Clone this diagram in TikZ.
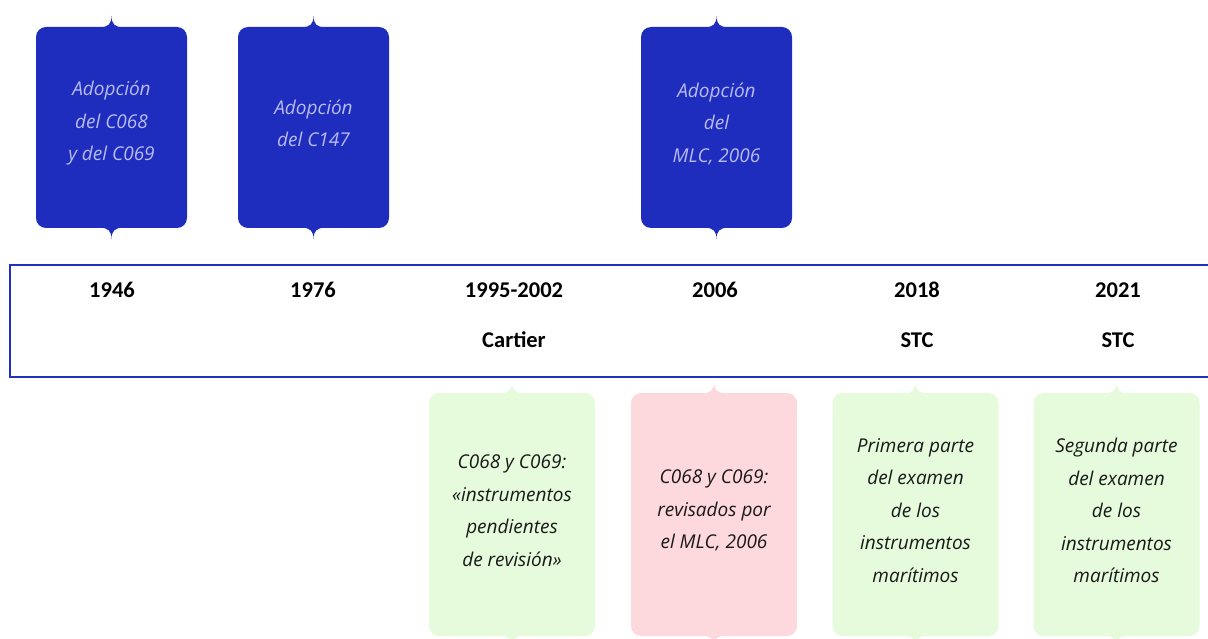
\documentclass[tikz,border=0pt]{standalone}
\usepackage{fontspec}
\setmainfont{Open Sans}
\newfontfamily\datefont{Carlito}
\usetikzlibrary{calc}

\definecolor{boxblue}{RGB}{31,45,190}
\definecolor{boxtext}{RGB}{185,188,242}
\definecolor{bandblue}{RGB}{32,48,192}
\definecolor{softgreen}{RGB}{230,250,220}
\definecolor{softpink}{RGB}{253,216,220}

\tikzset{
  milestone/.style={rounded corners=10pt, inner sep=0pt},
  upperbox/.style={milestone, fill=boxblue,
    minimum width=151pt, minimum height=201pt},
  lowerbox/.style={milestone, fill=#1,
    minimum width=166pt, minimum height=243pt},
  boxtxt/.style={align=center, inner sep=0pt, yshift=4pt,
    font=\itshape\fontsize{19}{32.5}\selectfont},
  datelabel/.style={font=\datefont\bfseries\fontsize{22.5}{26}\selectfont},
  bandline/.style={draw=bandblue, line width=2pt},
}

% little pointed tab on a box edge: #1 anchor, #2 = 1 up / -1 down, #3 colour
\newcommand{\cusp}[3]{%
  \fill[#3, shift={(#1)}, yscale=#2] (-12,0.5) .. controls (-3,0.5) and (0,-3) .. (0,-11)
    .. controls (0,-3) and (3,0.5) .. (12,0.5) -- cycle;}

\begin{document}
\begin{tikzpicture}[x=1pt,y=-1pt]
\useasboundingbox (0,0) rectangle (1208,639);
\clip (0,0) rectangle (1208,639);

% band
\draw[bandline] (1209,265) -- (10,265) -- (10,377) -- (1209,377);

% years
\node[datelabel] (y1946) at (112,290) {1946};
\node[datelabel] (y1976) at (313,290) {1976};
\node[datelabel] (y1995) at (514,290) {1995-2002};
\node[datelabel] (y2006) at (715,290) {2006};
\node[datelabel] (y2018) at (917,290) {2018};
\node[datelabel] (y2021) at (1118,290) {2021};
\node[datelabel] (cartier) at (514,340) {Cartier};
\node[datelabel] (stc1) at (917,340) {STC};
\node[datelabel] (stc2) at (1118,340) {STC};

% adoptions (above)
\node[upperbox] (adop1) at (111.5,127.5) {};
\node[upperbox] (adop2) at (313.5,127.5) {};
\node[upperbox] (adop3) at (716.5,127.5) {};
\foreach \b in {adop1,adop2,adop3}{
  \cusp{\b.north}{1}{boxblue}
  \cusp{\b.south}{-1}{boxblue}
}
\node[boxtxt, text=boxtext] (adop1txt) at (adop1) {Adopción\\del C068\\y del C069};
\node[boxtxt, text=boxtext] (adop2txt) at (adop2) {Adopción\\del C147};
\node[boxtxt, text=boxtext] (adop3txt) at (adop3) {Adopción\\del\\MLC, 2006};

% reviews (below)
\node[lowerbox=softgreen] (rev1) at (512,514.5) {};
\node[lowerbox=softpink] (rev2) at (714,514.5) {};
\node[lowerbox=softgreen] (rev3) at (915.5,514.5) {};
\node[lowerbox=softgreen] (rev4) at (1116.5,514.5) {};
\cusp{rev1.north}{1}{softgreen}
\cusp{rev1.south}{-1}{softgreen}
\cusp{rev2.north}{1}{softpink}
\cusp{rev2.south}{-1}{softpink}
\cusp{rev3.north}{1}{softgreen}
\cusp{rev3.south}{-1}{softgreen}
\cusp{rev4.north}{1}{softgreen}
\cusp{rev4.south}{-1}{softgreen}
\node[boxtxt, text=black!90] (rev1txt) at (rev1) {C068 y C069:\\«instrumentos\\pendientes\\de revisión»};
\node[boxtxt, text=black!90] (rev2txt) at (rev2) {C068 y C069:\\revisados por\\el MLC, 2006};
\node[boxtxt, text=black!90] (rev3txt) at (rev3) {Primera parte\\del examen\\de los\\instrumentos\\marítimos};
\node[boxtxt, text=black!90] (rev4txt) at (rev4) {Segunda parte\\del examen\\de los\\instrumentos\\marítimos};
\end{tikzpicture}
\end{document}
